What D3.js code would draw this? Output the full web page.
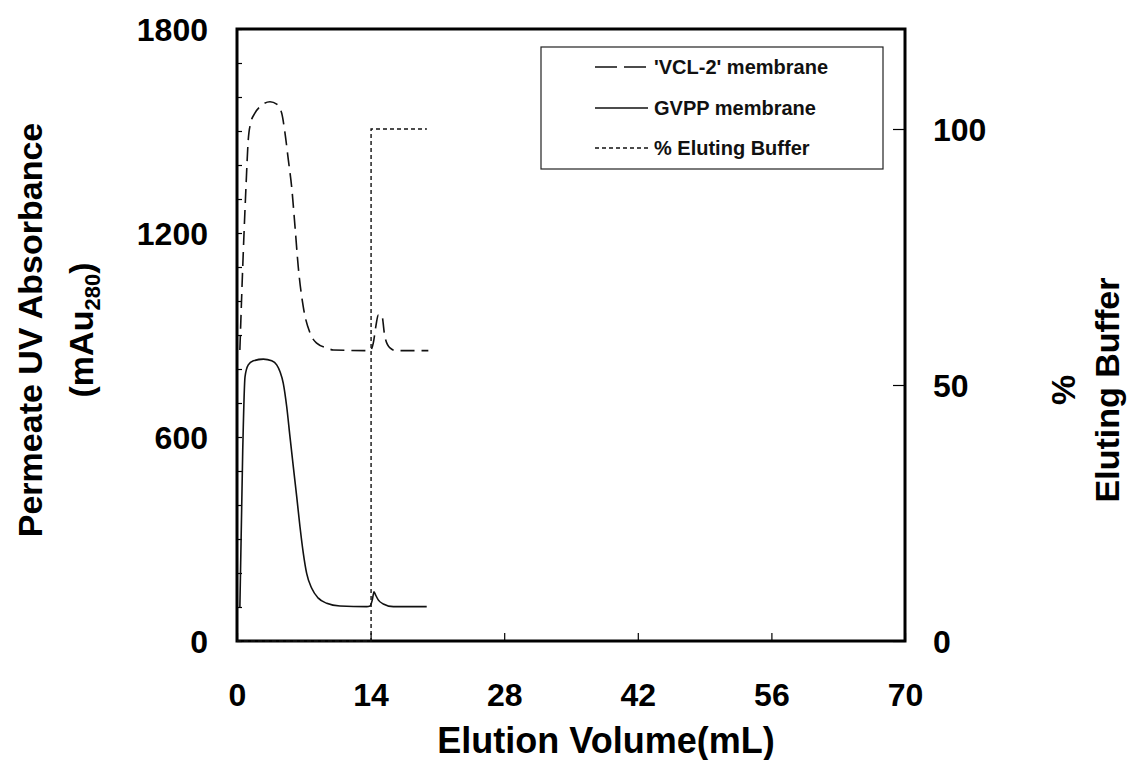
<!DOCTYPE html>
<html>
<head>
<meta charset="utf-8">
<script src="https://cdn.jsdelivr.net/npm/d3@7"></script>
<style>
  html, body { margin: 0; padding: 0; background: #fff; }
  svg { display: block; font-family: "Liberation Sans", Arial, Helvetica, sans-serif; }
</style>
</head>
<body>
<svg id="chart" width="1136" height="760"></svg>
<script>
// ---------- data ----------
const xTicks = [0, 14, 28, 42, 56, 70];
const yLeftTicks = d3.range(0, 1801, 100);
const yLeftLabels = [0, 600, 1200, 1800];
const yRightTicks = [0, 50, 100];

// 'VCL-2' membrane (elution volume mL, absorbance mAu)
const vclVol = [0.3, 0.6, 0.94, 1.18, 1.44, 1.89, 2.59, 3.46, 4.16, 4.68, 5.03, 5.38, 5.73, 6.08, 6.42, 6.95, 7.65, 8.35, 9.4, 10.1, 13.94, 14.28, 14.57, 14.8, 15.16, 15.5, 16.03, 16.7, 20.05];
const vclAbs = [856, 1100, 1335, 1474, 1524, 1553, 1576, 1586, 1579, 1553, 1494, 1415, 1335, 1218, 1100, 982, 906, 876, 862, 856, 854, 876, 929, 959, 959, 894, 862, 854, 854];

// GVPP membrane
const gvppVol = [0.3, 0.6, 0.84, 1.18, 1.71, 2.76, 3.64, 4.16, 4.51, 4.85, 5.21, 5.55, 5.9, 6.26, 6.6, 6.95, 7.3, 7.83, 8.52, 9.4, 10.79, 13.59, 13.94, 14.18, 14.36, 14.53, 14.8, 15.33, 16.38, 19.88];
const gvppAbs = [100, 560, 777, 812, 824, 829, 824, 812, 792, 758, 689, 601, 513, 424, 336, 258, 199, 155, 126, 111, 103, 101, 103, 121, 145, 135, 121, 109, 101, 101];

// % Eluting Buffer
const bufVol = [0, 14.05, 14.05, 19.9];
const bufPct = [0, 0, 100, 100];

const legendLabels = ["'VCL-2' membrane", "GVPP membrane", "% Eluting Buffer"];

// ---------- layout ----------
const svg = d3.select("#chart");
const L = 237, R = 905, T = 29, B = 641;
const x = d3.scaleLinear().domain([0, 70]).range([L, R]);
const yL = d3.scaleLinear().domain([0, 1800]).range([B, T]);
const yR = d3.scaleLinear().domain([0, 100]).range([B, 129]);

const tickFont = 32;

// x axis
const gx = svg.append("g").attr("transform", `translate(0,${B})`)
  .call(d3.axisBottom(x).tickValues(xTicks).tickSizeInner(-8).tickSizeOuter(0).tickPadding(42));
// left axis
const gl = svg.append("g").attr("transform", `translate(${L},0)`)
  .call(d3.axisLeft(yL).tickValues(yLeftTicks).tickSizeInner(-5).tickSizeOuter(0).tickPadding(29)
    .tickFormat(d => yLeftLabels.includes(d) ? d : ""));
// right axis
const gr = svg.append("g").attr("transform", `translate(${R},0)`)
  .call(d3.axisRight(yR).tickValues(yRightTicks).tickSizeInner(-12).tickSizeOuter(0).tickPadding(28));

[gx, gl, gr].forEach(g => {
  g.select(".domain").remove();
  g.selectAll(".tick line").attr("stroke", "#000").attr("stroke-width", 1.2);
  g.selectAll(".tick text").attr("fill", "#000").attr("font-size", tickFont).attr("font-weight", "bold")
    .attr("font-family", '"Liberation Sans", Arial, sans-serif');
});
gl.selectAll(".tick text").attr("dy", "0.36em");
gr.selectAll(".tick text").attr("dy", "0.36em");

// frame
svg.append("rect").attr("x", L).attr("y", T).attr("width", R - L).attr("height", B - T)
  .attr("fill", "none").attr("stroke", "#000").attr("stroke-width", 3);

// lines
const lineL = d3.line().x(d => x(d[0])).y(d => yL(d[1])).curve(d3.curveMonotoneX);
const vcl = vclVol.map((v, i) => [v, vclAbs[i]]);
const gvpp = gvppVol.map((v, i) => [v, gvppAbs[i]]);
const buf = bufVol.map((v, i) => [v, bufPct[i]]);

svg.append("path").datum(vcl).attr("d", lineL).attr("fill", "none")
  .attr("stroke", "#111").attr("stroke-width", 1.6).attr("stroke-dasharray", "14,7");
svg.append("path").datum(gvpp).attr("d", lineL).attr("fill", "none")
  .attr("stroke", "#111").attr("stroke-width", 1.6);
svg.append("path").datum(buf)
  .attr("d", d3.line().x(d => x(d[0])).y(d => yR(d[1])))
  .attr("fill", "none").attr("stroke", "#111").attr("stroke-width", 1.4).attr("stroke-dasharray", "4,3");

// legend
const lg = svg.append("g");
lg.append("rect").attr("x", 541).attr("y", 47).attr("width", 342).attr("height", 122)
  .attr("fill", "#fff").attr("stroke", "#222").attr("stroke-width", 1.2);
const rowsY = [67, 108, 148];
const dashes = ["22,7", null, "4,3"];
legendLabels.forEach((t, i) => {
  const ln = lg.append("line").attr("x1", 595).attr("x2", 648).attr("y1", rowsY[i]).attr("y2", rowsY[i])
    .attr("stroke", "#111").attr("stroke-width", 1.5);
  if (dashes[i]) ln.attr("stroke-dasharray", dashes[i]);
  lg.append("text").attr("x", 654).attr("y", rowsY[i]).attr("dy", "0.35em")
    .attr("font-size", 20).attr("font-weight", "bold").attr("fill", "#111").text(t);
});

// axis titles
svg.append("text").attr("x", 606).attr("y", 740).attr("dy", "0.35em").attr("text-anchor", "middle")
  .attr("font-size", 36).attr("font-weight", "bold").text("Elution Volume(mL)");

const yt = svg.append("g").attr("transform", "translate(30,330) rotate(-90)");
yt.append("text").attr("text-anchor", "middle").attr("dy", "0.35em")
  .attr("font-size", 34).attr("font-weight", "bold").text("Permeate UV Absorbance");
const yt2 = svg.append("g").attr("transform", "translate(81,330) rotate(-90)");
const t2 = yt2.append("text").attr("text-anchor", "middle").attr("dy", "0.35em")
  .attr("font-size", 34).attr("font-weight", "bold");
t2.append("tspan").text("(mAu");
t2.append("tspan").attr("font-size", 22).attr("dy", "0.3em").text("280");
t2.append("tspan").attr("dy", "-0.2em").text(")");

const rt = svg.append("g").attr("transform", "translate(1063,390) rotate(-90)");
rt.append("text").attr("text-anchor", "middle").attr("dy", "0.35em")
  .attr("font-size", 34).attr("font-weight", "bold").text("%");
const rt2 = svg.append("g").attr("transform", "translate(1107,390) rotate(-90)");
rt2.append("text").attr("text-anchor", "middle").attr("dy", "0.35em")
  .attr("font-size", 34).attr("font-weight", "bold").text("Eluting Buffer");
</script>
</body>
</html>
